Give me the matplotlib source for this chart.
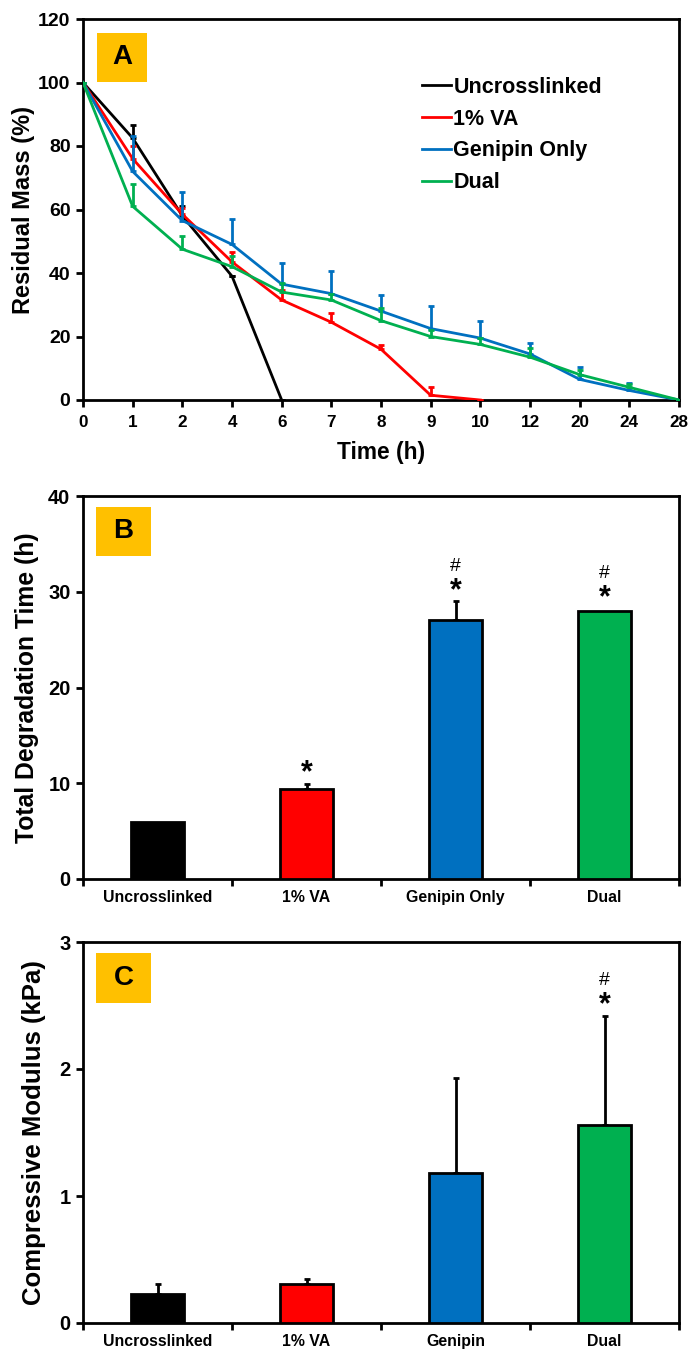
import numpy as np
import matplotlib
matplotlib.use("Agg")
import matplotlib.pyplot as plt
from matplotlib.patches import Rectangle
from matplotlib import font_manager
from matplotlib.transforms import offset_copy

# ---------------- data ----------------
time_labels = ["0", "1", "2", "4", "6", "7", "8", "9", "10", "12", "20", "24", "28"]

uncross_mass = [100, 82.5, 58, 39, 0]
uncross_err = [0, 4, 3, 0, 0]
va_mass = [100, 76, 58.5, 43.5, 31.5, 24.5, 16, 1.5, 0]
va_err = [0, 4, 2, 3, 3, 3, 1.2, 2.5, 0]
gen_mass = [100, 72, 56.5, 49, 36.5, 33.5, 28, 22.5, 19.5, 14.5, 6.5, 3, 0]
gen_err = [0, 11, 9, 8, 6.5, 7, 5, 7, 5.5, 3.5, 4, 2.5, 0]
dual_mass = [100, 61, 47.5, 42, 34, 31.5, 25, 20, 17.5, 13.5, 8, 4, 0]
dual_err = [0, 7, 4, 3.5, 3, 2, 4, 2, 2, 3, 1.5, 1, 0]

groups_b = ["Uncrosslinked", "1% VA", "Genipin Only", "Dual"]
deg_time = [6.0, 9.4, 27.0, 28.0]
deg_err = [0.0, 0.5, 2.0, 0.0]
# significance marks: (bar index, y where mark sits, has '#')
sig_b = [(1, 12.6, False), (2, 31.6, True), (3, 30.9, True)]

groups_c = ["Uncrosslinked", "1% VA", "Genipin", "Dual"]
modulus = [0.23, 0.31, 1.18, 1.56]
modulus_err = [0.08, 0.04, 0.75, 0.86]
sig_c = [(3, 2.62, True)]

series_names = ["Uncrosslinked", "1% VA", "Genipin Only", "Dual"]
colors = ["#000000", "#FF0000", "#0070C0", "#00B050"]
orange = "#FFC000"

# ---------------- fonts ----------------
installed = {f.name for f in font_manager.fontManager.ttflist}
HAS_NARROW = "Liberation Sans Narrow" in installed
NARROW = ["Liberation Sans Narrow", "Liberation Sans", "DejaVu Sans"] if HAS_NARROW else ["Liberation Sans", "DejaVu Sans"]
nscale = 1.0 if HAS_NARROW else 0.82

plt.rcParams['font.family'] = ['Liberation Sans', 'DejaVu Sans']
plt.rcParams['font.weight'] = 'bold'
plt.rcParams['axes.linewidth'] = 2.0

W, H = 692, 1351
fig = plt.figure(figsize=(W / 100, H / 100), dpi=100)

def ax_rect(x0, y0, x1, y1):
    return [x0 / W, 1 - y1 / H, (x1 - x0) / W, (y1 - y0) / H]

def label_box(letter, x0, y0, x1, y1):
    r = Rectangle((x0 / W, 1 - y1 / H), (x1 - x0) / W, (y1 - y0) / H,
                  transform=fig.transFigure, facecolor=orange, edgecolor='none', zorder=5)
    fig.patches.append(r)
    fig.text((x0 + x1) / 2 / W, 1 - (y0 + y1) / 2 / H, letter, ha='center', va='center',
             fontsize=20, fontweight='bold', color='black', zorder=6)

def style_ticks(ax):
    ax.tick_params(axis='both', direction='out', length=5, width=2, color='black')
    for sp in ax.spines.values():
        sp.set_linewidth(2.0)

def sig_marks(ax, marks):
    up = offset_copy(ax.transData, fig=fig, x=0, y=1.0, units='points')
    for idx, y, has_hash in marks:
        ax.text(idx, y, "*", ha='center', va='top', fontsize=22, fontweight='bold')
        if has_hash:
            ax.text(idx, y, "#", ha='center', va='bottom', fontsize=14,
                    fontweight='normal', transform=up)

# ---------------- panel A ----------------
axA = fig.add_axes(ax_rect(83, 19, 679, 400))
xs_all = np.arange(len(time_labels))
data_A = [(uncross_mass, uncross_err), (va_mass, va_err), (gen_mass, gen_err), (dual_mass, dual_err)]
for (m, e), c, name in zip(data_A, colors, series_names):
    x = xs_all[:len(m)]
    axA.plot(x, m, color=c, lw=2.0, label=name, zorder=3)
    axA.errorbar(x, m, yerr=[np.zeros(len(e)), e], fmt='none', ecolor=c, elinewidth=2,
                 capsize=2.5, capthick=2, zorder=3)
axA.set_xlim(0, len(time_labels) - 1)
axA.set_ylim(0, 120)
axA.set_xticks(xs_all)
axA.set_xticklabels(time_labels, family=NARROW, fontsize=15 * nscale, fontweight='bold')
axA.set_yticks(np.arange(0, 121, 20))
style_ticks(axA)
axA.tick_params(axis='x', pad=6)
axA.tick_params(axis='y', labelsize=14, pad=4)
axA.set_xlabel("Time (h)", fontsize=20 * nscale, fontweight='bold', family=NARROW, labelpad=8)
axA.set_ylabel("Residual Mass (%)", fontsize=17, fontweight='bold')
axA.yaxis.set_label_coords((35 - 83) / 596, 0.5)
leg = axA.legend(loc='upper left', bbox_to_anchor=(0.569, 0.848), frameon=False,
                 fontsize=15.5, handlelength=1.35, handletextpad=0.1, labelspacing=0.5,
                 borderpad=0, borderaxespad=0)
for t in leg.get_texts():
    t.set_fontweight('bold')
label_box("A", 97, 33, 147, 82)

# ---------------- bar panels ----------------
def bar_panel(rect, groups, vals, errs, ylim, yticks, ylabel, label_x, lab_size):
    ax = fig.add_axes(rect)
    pos = np.arange(len(groups))
    ax.bar(pos, vals, width=0.35, color=colors, edgecolor='black', linewidth=2, zorder=3)
    for p, v, e in zip(pos, vals, errs):
        if e > 0:
            ax.errorbar([p], [v], yerr=[[0], [e]], fmt='none', ecolor='black', elinewidth=2,
                        capsize=2.5, capthick=2, zorder=2)
    ax.set_xlim(-0.5, len(groups) - 0.5)
    ax.set_ylim(*ylim)
    ax.set_yticks(yticks)
    ax.set_yticklabels([str(t) for t in yticks])
    ax.set_xticks(np.arange(len(groups) + 1) - 0.5)
    ax.set_xticklabels([])
    ax.set_xticks(pos, minor=True)
    ax.set_xticklabels(groups, minor=True, family=NARROW, fontsize=14 * nscale, fontweight='bold')
    style_ticks(ax)
    ax.tick_params(axis='x', which='minor', length=0, pad=8)
    ax.tick_params(axis='y', labelsize=14.5, pad=4)
    ax.set_ylabel(ylabel, fontsize=lab_size, fontweight='bold')
    ax.yaxis.set_label_coords((label_x - 83) / 596, 0.5)
    return ax

axB = bar_panel(ax_rect(83, 496, 679, 879), groups_b, deg_time, deg_err, (0, 40),
                [0, 10, 20, 30, 40], "Total Degradation Time (h)", 39, 17.8)
label_box("B", 96, 507, 151, 556)
sig_marks(axB, sig_b)

axC = bar_panel(ax_rect(83, 942, 679, 1323), groups_c, modulus, modulus_err, (0, 3),
                [0, 1, 2, 3], "Compressive Modulus (kPa)", 46, 18.5)
label_box("C", 96, 953, 151, 1003)
sig_marks(axC, sig_c)

fig.savefig("out.png", dpi=100)
